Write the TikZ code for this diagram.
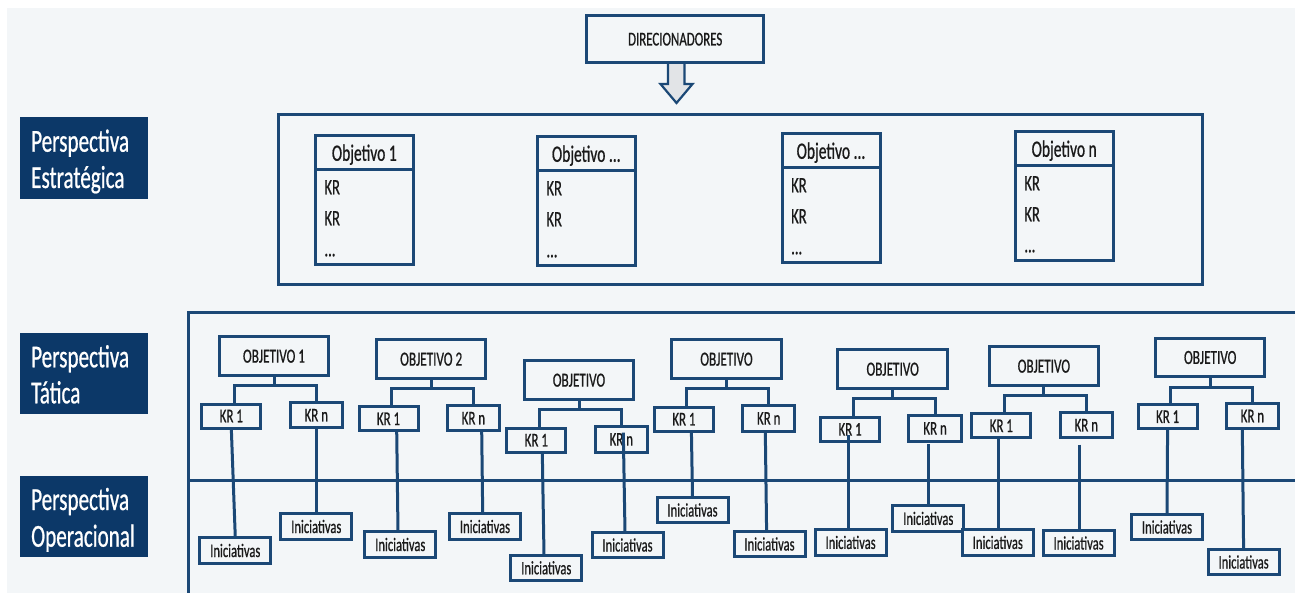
\documentclass[tikz,border=0pt]{standalone}
\usepackage{fontspec}
\setmainfont{Carlito}[FakeStretch=0.66,FakeBold=0.7]
\definecolor{navy}{HTML}{1B4876}
\definecolor{pnavy}{HTML}{0C3868}
\definecolor{bgc}{HTML}{F3F6F8}
\definecolor{arrowfill}{HTML}{E2E4E7}
\definecolor{ink}{HTML}{1A1A1A}
\newcommand\sobj[4]{%
  \node[sbox] (#1) at (#2,#3) {};
  \draw[ln] ([yshift=-34pt]#1.north west) -- ([yshift=-34pt]#1.north east);
  \node[shdr] (#1h) at ([yshift=-25.5pt]#1.north) {#4};
  \node[stxt] (#1a) at ([xshift=9pt,yshift=-59pt]#1.north west) {KR};
  \node[stxt] (#1b) at ([xshift=9pt,yshift=-90pt]#1.north west) {KR};
  \node[stxt] (#1c) at ([xshift=9pt,yshift=-121pt]#1.north west) {...};
}
\begin{document}
\begin{tikzpicture}[x=1pt,y=-1pt,
  ln/.style={draw=navy,line width=3pt},
  frame/.style={draw=navy,line width=3pt,fill=bgc,inner sep=0pt,outer sep=0pt,text=ink},
  objbox/.style={frame,minimum width=109.5pt,minimum height=38.5pt,font=\fontsize{20}{24}\selectfont},
  kra/.style={frame,minimum width=59pt,minimum height=24pt,font=\fontsize{19.5}{23}\selectfont},
  krb/.style={frame,minimum width=52.5pt,minimum height=25.5pt,font=\fontsize{19.5}{23}\selectfont},
  inibox/.style={frame,minimum width=71pt,minimum height=25.5pt,font=\fontsize{19}{23}\selectfont},
  sbox/.style={frame,minimum width=98pt,minimum height=129pt,anchor=north west},
  pbox/.style={fill=pnavy,minimum width=128pt,minimum height=81pt,inner sep=0pt,outer sep=0pt},
  ptxt/.style={text=white,inner sep=0pt,anchor=base west,font=\fontsize{32}{38}\selectfont},
  stxt/.style={inner sep=0pt,text=ink,font=\fontsize{22}{26}\selectfont,anchor=base west},
  shdr/.style={inner sep=0pt,text=ink,font=\fontsize{23.5}{28}\selectfont,anchor=base},
]
\useasboundingbox (0,0) rectangle (1295,593);
\fill[bgc] (7,8) rectangle (1295,593);

% perspectives
\node[pbox,minimum height=82pt] (pe) at (84.2,158) {};
\node[ptxt] (pe1) at (31,151.7) {Perspectiva};
\node[ptxt] (pe2) at (31,188) {Estratégica};
\node[pbox] (pt) at (84.2,373.8) {};
\node[ptxt] (pt1) at (31,367.3) {Perspectiva};
\node[ptxt] (pt2) at (31,403.3) {Tática};
\node[pbox] (po) at (84.2,516.2) {};
\node[ptxt] (po1) at (31,510) {Perspectiva};
\node[ptxt] (po2) at (31,546.7) {Operacional};

% direcionadores and arrow
\filldraw[fill=arrowfill,draw=navy,line width=2.2pt,line join=miter]
  (668,62) -- (668,84) -- (660.5,84) -- (676.5,103) -- (692.5,84) -- (684.5,84) -- (684.5,62) -- cycle;
\node[frame,minimum width=177.5pt,minimum height=47.5pt,font=\fontsize{19.5}{23}\selectfont] (dir) at (675.2,39.2) {DIRECIONADORES};

% strategic
\draw[ln,line width=3.2pt] (278.5,114.5) rectangle (1202.5,284.5);
\sobj{s1}{315.3}{135.3}{Objetivo 1}
\sobj{s2}{537.3}{136.3}{Objetivo ...}
\sobj{s3}{782}{133.3}{Objetivo ...}
\sobj{s4}{1015.2}{131.3}{Objetivo n}

% tactical frame
\draw[ln] (188,600) -- (188,312.5) -- (1300,312.5);
\draw[ln] (188,480) -- (1300,480);

% G1
\node[objbox] (o1) at (274,356.2) {OBJETIVO 1};
\node[kra] (a1) at (231.3,416) {KR 1};
\node[krb] (n1) at (316.3,415.2) {KR n};
\node[inibox] (ia1) at (235.3,550.5) {Iniciativas};
\node[inibox] (in1) at (316.3,526.5) {Iniciativas};
\coordinate (b1) at ([yshift=-10.5pt]o1.south);
\draw[ln] (o1.south) -- (b1);
\draw[ln] ([xshift=3pt]a1.north) |- (b1) -| (n1.north);
\draw[ln] (a1.south) -- (ia1.north);
\draw[ln] (n1.south) -- (in1.north);

% G2
\node[objbox] (o2) at (431.2,359.2) {OBJETIVO 2};
\node[kra] (a2) at (388.5,418.8) {KR 1};
\node[krb] (n2) at (473.4,418.2) {KR n};
\node[inibox] (ia2) at (400.3,544.5) {Iniciativas};
\node[inibox] (in2) at (485,526.5) {Iniciativas};
\coordinate (b2) at ([yshift=-10.5pt]o2.south);
\draw[ln] (o2.south) -- (b2);
\draw[ln] ([xshift=3pt]a2.north) |- (b2) -| (n2.north);
\draw[ln] ([xshift=8.2pt]a2.south) -- ([xshift=-2.3pt]ia2.north);
\draw[ln] ([xshift=8.3pt]n2.south) -- ([xshift=-2.3pt]in2.north);

% G3
\node[objbox] (o3) at (579,380.2) {OBJETIVO};
\node[kra] (a3) at (536.3,440.2) {KR 1};
\node[krb] (n3) at (621.3,439.4) {KR n};
\node[inibox] (ia3) at (546.3,567.8) {Iniciativas};
\node[inibox] (in3) at (627.5,545) {Iniciativas};
\coordinate (b3) at ([yshift=-10.5pt]o3.south);
\draw[ln] (o3.south) -- (b3);
\draw[ln] ([xshift=3pt]a3.north) |- (b3) -| (n3.north);
\draw[ln] ([xshift=6pt]a3.south) -- ([xshift=-2.3pt]ia3.north);
\draw[ln] ([xshift=2pt,yshift=-6pt]n3.north) -- ([xshift=-2.5pt]in3.north);

% G4
\node[objbox] (o4) at (726.5,359.2) {OBJETIVO};
\node[kra] (a4) at (683.9,419.2) {KR 1};
\node[krb] (n4) at (768.7,418.4) {KR n};
\node[inibox] (ia4) at (692.5,510) {Iniciativas};
\node[inibox] (in4) at (769.5,544) {Iniciativas};
\coordinate (b4) at ([yshift=-10.5pt]o4.south);
\draw[ln] (o4.south) -- (b4);
\draw[ln] ([xshift=3pt]a4.north) |- (b4) -| (n4.north);
\draw[ln] ([xshift=7.5pt]a4.south) -- (ia4.north);
\draw[ln] ([xshift=-3.4pt]n4.south) -- ([xshift=-2.9pt]in4.north);

% G5
\node[objbox] (o5) at (892.7,369.2) {OBJETIVO};
\node[kra] (a5) at (850.1,429.4) {KR 1};
\node[krb] (n5) at (935.1,428.4) {KR n};
\node[inibox] (ia5) at (850.6,542.4) {Iniciativas};
\node[inibox] (in5) at (928.3,518.4) {Iniciativas};
\coordinate (b5) at ([yshift=-10.5pt]o5.south);
\draw[ln] (o5.south) -- (b5);
\draw[ln] ([xshift=3pt]a5.north) |- (b5) -| (n5.north);
\draw[ln] ([xshift=-1.2pt,yshift=6pt]a5.south) -- ([xshift=-1.7pt]ia5.north);
\draw[ln] ([xshift=-6.5pt,yshift=-3pt]n5.south) -- ([xshift=0.3pt]in5.north);

% G6
\node[objbox] (o6) at (1043.9,366.2) {OBJETIVO};
\node[kra] (a6) at (1001.3,425.8) {KR 1};
\node[krb] (n6) at (1086.3,425.2) {KR n};
\node[inibox] (ia6) at (997.8,542.4) {Iniciativas};
\node[inibox] (in6) at (1078.6,543) {Iniciativas};
\coordinate (b6) at ([yshift=-10.5pt]o6.south);
\draw[ln] (o6.south) -- (b6);
\draw[ln] ([xshift=3pt]a6.north) |- (b6) -| (n6.north);
\draw[ln] ([xshift=-2.9pt]a6.south) -- ([xshift=0.6pt]ia6.north);
\draw[ln] ([xshift=-6.9pt,yshift=-6.7pt]n6.south) -- ([xshift=0.8pt]in6.north);

% G7
\node[objbox] (o7) at (1210.2,357.5) {OBJETIVO};
\node[kra] (a7) at (1167.6,416.7) {KR 1};
\node[krb] (n7) at (1252.4,416) {KR n};
\node[inibox] (ia7) at (1167,527) {Iniciativas};
\node[inibox] (in7) at (1243.6,562) {Iniciativas};
\coordinate (b7) at ([yshift=-10.5pt]o7.south);
\draw[ln] (o7.south) -- (b7);
\draw[ln] ([xshift=3pt]a7.north) |- (b7) -| (n7.north);
\draw[ln] (a7.south) -- (ia7.north);
\draw[ln] ([xshift=-10.1pt]n7.south) -- (in7.north);
\end{tikzpicture}
\end{document}
